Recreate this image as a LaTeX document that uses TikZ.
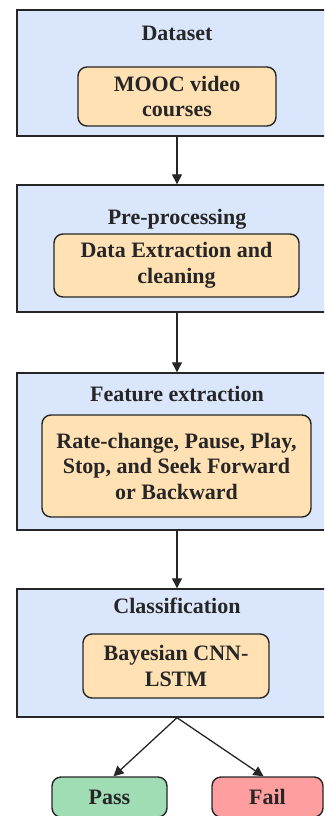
\documentclass[tikz,border=0pt]{standalone}
\usepackage{fontspec}
\setmainfont{Liberation Serif}
\usetikzlibrary{arrows.meta}
\definecolor{outerfill}{HTML}{DAE6FC}
\definecolor{innerfill}{HTML}{FFE1B4}
\definecolor{passfill}{HTML}{A0DCB4}
\definecolor{failfill}{HTML}{FF9E9E}
\definecolor{edge}{HTML}{262626}
\tikzset{
  outerbox/.style={draw=edge, line width=1.4pt, fill=outerfill, rectangle, minimum width=320pt, inner sep=0pt},
  innerbox/.style={draw=edge, line width=1.4pt, fill=innerfill, rectangle, rounded corners=9pt, inner sep=0pt, align=center, font=\fontsize{22}{25.5}\selectfont\bfseries, text=edge},
  titletext/.style={anchor=base, inner sep=0pt, font=\fontsize{22}{25.5}\selectfont\bfseries, text=edge},
  resultbox/.style={draw=edge, line width=1.4pt, rectangle, rounded corners=9pt, inner sep=0pt, minimum height=40pt, font=\fontsize{22}{25.5}\selectfont\bfseries, text=edge},
  flow/.style={draw=edge, line width=1.3pt, -{Triangle[length=10pt,width=10pt]}}
}
\begin{document}
\begin{tikzpicture}[x=1pt,y=-1pt]
\useasboundingbox (0,0) rectangle (324,816);
\clip (0,0) rectangle (324,816);
% outer boxes
\node[outerbox, minimum height=126pt] (o1) at (177,73) {};
\node[outerbox, minimum height=127pt] (o2) at (177,248.5) {};
\node[outerbox, minimum height=157pt] (o3) at (177,451.5) {};
\node[outerbox, minimum height=128pt] (o4) at (177,653) {};
% titles
\node[titletext] (t1) at (177,40.5) {Dataset};
\node[titletext] (t2) at (177,224) {Pre-processing};
\node[titletext] (t3) at (177,401) {Feature extraction};
\node[titletext] (t4) at (177,613) {Classification};
% inner boxes
\node[innerbox, minimum width=198pt, minimum height=59pt] (i1) at (177,96.5) {MOOC video\\courses};
\node[innerbox, minimum width=245pt, minimum height=63pt] (i2) at (176.5,265.5) {Data Extraction and\\cleaning};
\node[innerbox, minimum width=269pt, minimum height=102pt] (i3) at (176.5,466) {Rate-change, Pause, Play,\\Stop, and Seek Forward\\or Backward};
\node[innerbox, minimum width=186pt, minimum height=64pt] (i4) at (176,666) {Bayesian CNN-\\LSTM};
% results
\node[resultbox, fill=passfill, minimum width=115pt] (pass) at (109.5,797) {Pass};
\node[resultbox, fill=failfill, minimum width=111pt] (fail) at (267.5,797) {Fail};
% connectors
\draw[flow] (o1.south) -- (o2.north);
\draw[flow] (o2.south) -- (o3.north);
\draw[flow] (o3.south) -- (o4.north);
\draw[flow] (o4.south) -- ([xshift=4pt]pass.north);
\draw[flow] (o4.south) -- ([xshift=-4pt]fail.north);
\end{tikzpicture}
\end{document}
